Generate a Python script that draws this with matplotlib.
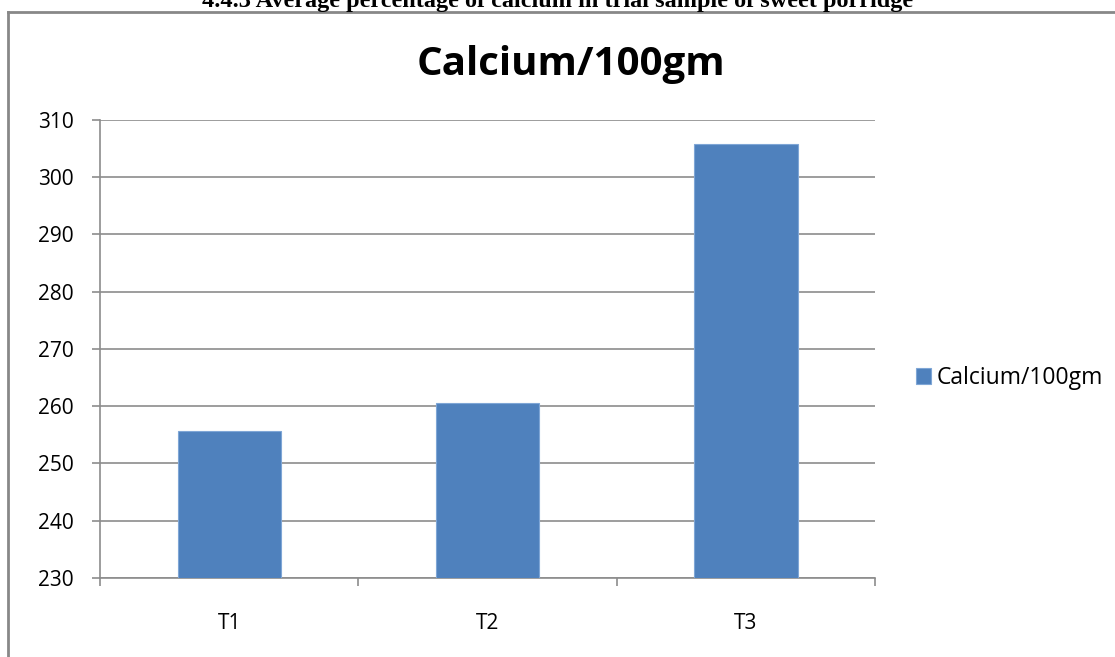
import matplotlib.pyplot as plt
from matplotlib.lines import Line2D

categories = ["T1", "T2", "T3"]
calcium = [255.6, 260.5, 305.8]
series_name = "Calcium/100gm"
heading = "4.4.3 Average percentage of calcium in trial sample of sweet porridge"

W, H = 1115, 657
fig = plt.figure(figsize=(W / 100, H / 100), dpi=100)
plt.rcParams["font.family"] = ["Open Sans", "DejaVu Sans"]

# chart frame (clipped by the page)
fig.add_artist(Line2D([8 / W, 8 / W], [0, 1 - 12 / H], color="#888888", lw=2))
fig.add_artist(Line2D([8 / W, 1], [1 - 12 / H, 1 - 12 / H], color="#888888", lw=2))

# heading cut at the top of the page
fig.text(0.5, 1 - 6.5 / H, heading, ha="center", va="baseline",
         family="Liberation Serif", weight="bold", fontsize=17.5)

ax = fig.add_axes([100 / W, 1 - 578 / H, 775 / W, 458 / H])
x = range(len(categories))
bars = ax.bar(x, calcium, width=0.4, color="#4F81BD", edgecolor="#7FA6D6",
              linewidth=0.8, label=series_name, zorder=3)
ax.set_xlim(-0.5, len(categories) - 0.5)
ax.set_ylim(230, 310)
ax.set_yticks(range(230, 311, 10))
ax.yaxis.grid(True, color="#8c8c8c", lw=1.2, zorder=0)

ax.set_xticks(x)
ax.set_xticklabels(categories)
ax.set_xticks([i - 0.5 for i in range(len(categories) + 1)], minor=True)
ax.tick_params(axis="x", which="major", length=0, pad=25, labelsize=15)
ax.tick_params(axis="x", which="minor", length=6, color="#8c8c8c", width=1.2)
ax.tick_params(axis="y", length=5.8, color="#8c8c8c", width=1.2, pad=13,
               labelsize=15)
for side in ["top", "right"]:
    ax.spines[side].set_visible(False)
for side in ["left", "bottom"]:
    ax.spines[side].set_color("#8c8c8c")
    ax.spines[side].set_linewidth(1.2)

fig.text(417 / W, 1 - 75 / H, series_name, ha="left", va="baseline",
         fontsize=29, weight="bold")

fig.legend(handles=[bars], labels=[series_name], loc="center left",
           bbox_to_anchor=(916 / W, 1 - 378 / H), frameon=False,
           borderpad=0, borderaxespad=0,
           fontsize=16.5, handlelength=0.65, handleheight=0.65,
           handletextpad=0.26)

fig.savefig("out.png", dpi=100)
